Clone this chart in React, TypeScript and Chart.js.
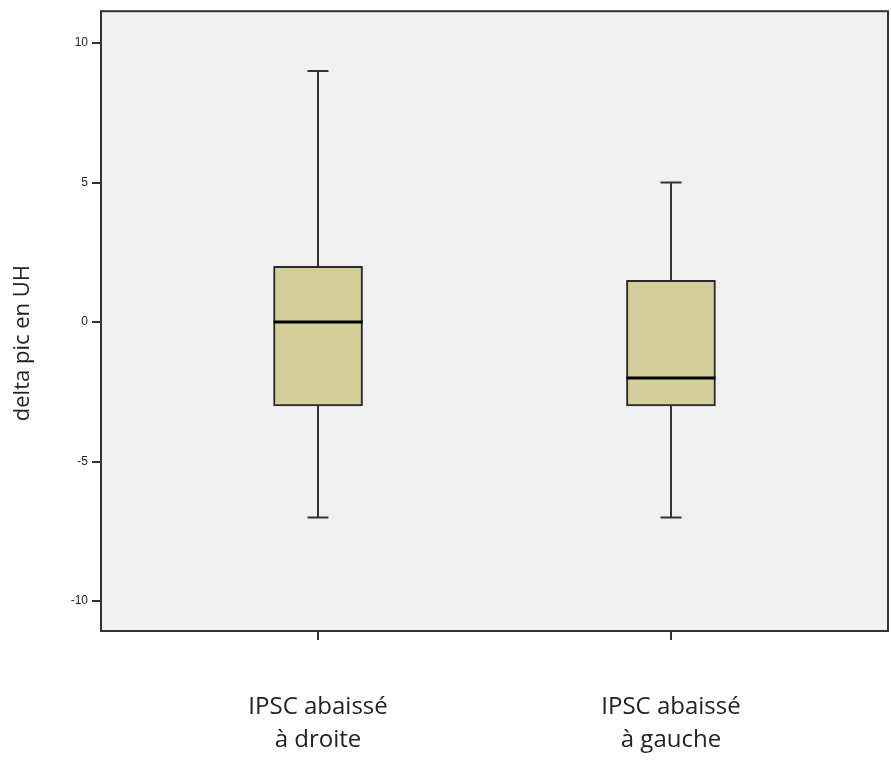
import React, { useEffect, useRef } from "react";
import { Chart, registerables } from "chart.js";

Chart.register(...registerables);

const categories: string[][] = [
  ["IPSC abaissé", "à droite"],
  ["IPSC abaissé", "à gauche"],
];
const positions = [1, 2];
const minValues = [-7, -7];
const q1Values = [-3, -3];
const medianValues = [0, -2];
const q3Values = [2, 1.5];
const maxValues = [9, 5];
const yTicks = [-10, -5, 0, 5, 10];
const yTitle = "delta pic en UH";

const boxPlugin = {
  id: "boxExtras",
  beforeDraw(chart: any) {
    const { ctx, chartArea } = chart;
    ctx.save();
    ctx.fillStyle = "#f0f0f0";
    ctx.fillRect(chartArea.left, chartArea.top, chartArea.right - chartArea.left, chartArea.bottom - chartArea.top);
    ctx.restore();
  },
  afterDatasetsDraw(chart: any) {
    const { ctx } = chart;
    const y = chart.scales.y;
    const meta = chart.getDatasetMeta(0);
    ctx.save();
    meta.data.forEach((bar: any, i: number) => {
      const cx = Math.round(bar.x);
      const half = bar.width / 2;
      ctx.strokeStyle = "#333";
      ctx.lineWidth = 2;
      ctx.beginPath();
      ctx.moveTo(cx, y.getPixelForValue(q3Values[i]));
      ctx.lineTo(cx, y.getPixelForValue(maxValues[i]));
      ctx.moveTo(cx, y.getPixelForValue(q1Values[i]));
      ctx.lineTo(cx, y.getPixelForValue(minValues[i]));
      ctx.stroke();
      const capHalf = 10.5;
      ctx.beginPath();
      ctx.moveTo(cx - capHalf, y.getPixelForValue(maxValues[i]));
      ctx.lineTo(cx + capHalf, y.getPixelForValue(maxValues[i]));
      ctx.moveTo(cx - capHalf, y.getPixelForValue(minValues[i]));
      ctx.lineTo(cx + capHalf, y.getPixelForValue(minValues[i]));
      ctx.stroke();
      ctx.strokeStyle = "#000";
      ctx.lineWidth = 3;
      ctx.beginPath();
      const my = y.getPixelForValue(medianValues[i]);
      ctx.moveTo(bar.x - half, my);
      ctx.lineTo(bar.x + half, my);
      ctx.stroke();
    });
    ctx.restore();
  },
  afterDraw(chart: any) {
    const { ctx, chartArea } = chart;
    ctx.save();
    ctx.strokeStyle = "#333";
    ctx.lineWidth = 2;
    ctx.strokeRect(chartArea.left, chartArea.top, chartArea.right - chartArea.left, chartArea.bottom - chartArea.top);
    // y axis title
    const midY = (chartArea.top + chartArea.bottom) / 2 + 22;
    ctx.translate(23, midY);
    ctx.rotate(-Math.PI / 2);
    ctx.fillStyle = "#222";
    ctx.font = "22px 'Open Sans'";
    ctx.textAlign = "center";
    ctx.textBaseline = "middle";
    ctx.fillText(yTitle, 0, 0);
    ctx.restore();
  },
};

export default function App() {
  const ref = useRef<HTMLCanvasElement | null>(null);

  useEffect(() => {
    document.body.style.margin = "0";
    const canvas = ref.current;
    if (!canvas) return;
    const chart = new Chart(canvas, {
      type: "bar",
      data: {
        datasets: [
          {
            data: positions.map((p, i) => ({ x: p, y: [q1Values[i], q3Values[i]] })) as any,
            backgroundColor: "#d3ce99",
            borderColor: "#2a2a2a",
            borderWidth: 2,
            borderSkipped: false,
            barThickness: 89,
          },
        ],
      },
      options: {
        animation: false,
        responsive: false,
        maintainAspectRatio: false,
        layout: { padding: { top: 9, right: 3, left: 0, bottom: 0 } },
        plugins: { legend: { display: false }, tooltip: { enabled: false } },
        scales: {
          x: {
            type: "linear",
            offset: false,
            min: 0.385,
            max: 2.615,
            afterBuildTicks: (s: any) => {
              s.ticks = positions.map((v) => ({ value: v }));
            },
            afterFit: (s: any) => {
              s.height = 129;
            },
            border: { display: false },
            grid: { offset: false, drawOnChartArea: false, drawTicks: true, tickLength: 9, color: "#333", lineWidth: 2 },
            ticks: {
              padding: 50,
              color: "#222",
              maxRotation: 0,
              autoSkip: false,
              font: { family: "Open Sans", size: 24, lineHeight: 1.4 },
              callback: (v: any) => {
                const i = positions.indexOf(Number(v));
                return i >= 0 ? categories[i] : "";
              },
            },
          },
          y: {
            type: "linear",
            min: -11.07,
            max: 11.14,
            afterBuildTicks: (s: any) => {
              s.ticks = yTicks.map((v) => ({ value: v }));
            },
            afterFit: (s: any) => {
              s.width = 101;
            },
            border: { display: false },
            grid: { drawOnChartArea: false, drawTicks: true, tickLength: 9, color: "#333", lineWidth: 2 },
            ticks: {
              padding: 4,
              color: "#222",
              font: { family: "Liberation Sans", size: 12 },
            },
          },
        },
      },
      plugins: [boxPlugin],
    });
    return () => chart.destroy();
  }, []);

  return (
    <div style={{ width: 891, height: 760 }}>
      <canvas ref={ref} width={891} height={760} style={{ display: "block", width: 891, height: 760 }} />
    </div>
  );
}
